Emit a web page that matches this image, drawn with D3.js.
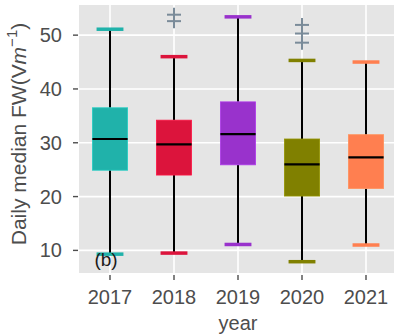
<!DOCTYPE html>
<html>
<head>
<meta charset="utf-8">
<script src="https://cdn.jsdelivr.net/npm/d3@7"></script>
<style>
  html, body { margin: 0; padding: 0; background: #ffffff; }
  svg { display: block; font-family: "Liberation Sans", Arial, sans-serif; }
</style>
</head>
<body>
<svg id="chart" width="394" height="336"></svg>
<script>
// Daily median FW per year: box summaries
const years     = ["2017", "2018", "2019", "2020", "2021"];
const lowerCap  = [9.3, 9.5, 11.1, 7.9, 11.0];
const q1        = [24.9, 24.0, 25.9, 20.1, 21.5];
const median    = [30.7, 29.7, 31.6, 26.0, 27.3];
const q3        = [36.5, 34.2, 37.6, 30.7, 31.5];
const upperCap  = [51.1, 46.0, 53.4, 45.3, 45.0];
const outlierYears  = ["2018", "2018", "2020", "2020", "2020"];
const outlierValues = [53.8, 52.6, 51.9, 50.3, 48.6];
const boxColors = ["#20B2AA", "#DC143C", "#9932CC", "#808000", "#FF7F50"];
const yTicks = [10, 20, 30, 40, 50];

const svg = d3.select("#chart");
const panel = { left: 79, top: 5, right: 394, bottom: 273 };

const x = d3.scalePoint().domain(years).range([110, 366]);
const step = x.step();
const y = d3.scaleLinear().domain([5.8, 55.6]).range([panel.bottom, panel.top]);

// panel background
svg.append("rect")
  .attr("x", panel.left).attr("y", panel.top)
  .attr("width", panel.right - panel.left)
  .attr("height", panel.bottom - panel.top)
  .attr("fill", "#E5E5E5");

// grid lines
svg.append("g").selectAll("line").data(yTicks).join("line")
  .attr("x1", panel.left).attr("x2", panel.right)
  .attr("y1", d => y(d)).attr("y2", d => y(d))
  .attr("stroke", "#ffffff").attr("stroke-width", 1.6);
svg.append("g").selectAll("line").data(years).join("line")
  .attr("x1", d => x(d)).attr("x2", d => x(d))
  .attr("y1", panel.top).attr("y2", panel.bottom)
  .attr("stroke", "#ffffff").attr("stroke-width", 1.6);

const rows = years.map((yr, i) => ({
  year: yr, lo: lowerCap[i], q1: q1[i], med: median[i], q3: q3[i], hi: upperCap[i], color: boxColors[i]
}));

const boxW = step * 0.55;
const capW = step * 0.42;

const g = svg.append("g");
// whiskers
g.selectAll("line.wlo").data(rows).join("line").attr("class", "wlo")
  .attr("x1", d => x(d.year)).attr("x2", d => x(d.year))
  .attr("y1", d => y(d.q1)).attr("y2", d => y(d.lo))
  .attr("stroke", "#000").attr("stroke-width", 2);
g.selectAll("line.whi").data(rows).join("line").attr("class", "whi")
  .attr("x1", d => x(d.year)).attr("x2", d => x(d.year))
  .attr("y1", d => y(d.q3)).attr("y2", d => y(d.hi))
  .attr("stroke", "#000").attr("stroke-width", 2);
// caps
g.selectAll("line.clo").data(rows).join("line").attr("class", "clo")
  .attr("x1", d => x(d.year) - capW / 2).attr("x2", d => x(d.year) + capW / 2)
  .attr("y1", d => y(d.lo)).attr("y2", d => y(d.lo))
  .attr("stroke", d => d.color).attr("stroke-width", 3.5);
g.selectAll("line.chi").data(rows).join("line").attr("class", "chi")
  .attr("x1", d => x(d.year) - capW / 2).attr("x2", d => x(d.year) + capW / 2)
  .attr("y1", d => y(d.hi)).attr("y2", d => y(d.hi))
  .attr("stroke", d => d.color).attr("stroke-width", 3.5);
// boxes
g.selectAll("rect.box").data(rows).join("rect").attr("class", "box")
  .attr("x", d => x(d.year) - boxW / 2).attr("width", boxW)
  .attr("y", d => y(d.q3)).attr("height", d => y(d.q1) - y(d.q3))
  .attr("fill", d => d.color)
  .attr("stroke", d => d3.color(d.color).brighter(0.4)).attr("stroke-width", 0.8);
// medians
g.selectAll("line.med").data(rows).join("line").attr("class", "med")
  .attr("x1", d => x(d.year) - boxW / 2).attr("x2", d => x(d.year) + boxW / 2)
  .attr("y1", d => y(d.med)).attr("y2", d => y(d.med))
  .attr("stroke", "#000").attr("stroke-width", 2.2);

// outliers drawn as plus signs
const outliers = outlierYears.map((yr, i) => ({ year: yr, value: outlierValues[i] }));
const ph = 7, pw = 7;
const og = svg.append("g").attr("stroke", "#7A8B99").attr("stroke-width", 2);
og.selectAll("line.ov").data(outliers).join("line").attr("class", "ov")
  .attr("x1", d => x(d.year)).attr("x2", d => x(d.year))
  .attr("y1", d => y(d.value) - ph).attr("y2", d => y(d.value) + ph);
og.selectAll("line.oh").data(outliers).join("line").attr("class", "oh")
  .attr("x1", d => x(d.year) - pw).attr("x2", d => x(d.year) + pw)
  .attr("y1", d => y(d.value)).attr("y2", d => y(d.value));

// panel tag
svg.append("text")
  .attr("x", x("2017") - 4).attr("y", 266)
  .attr("text-anchor", "middle")
  .attr("font-size", 19).attr("fill", "#1a1a1a")
  .text("(b)");

// y axis ticks and labels
svg.append("g").selectAll("line").data(yTicks).join("line")
  .attr("x1", panel.left - 6).attr("x2", panel.left - 1)
  .attr("y1", d => y(d)).attr("y2", d => y(d))
  .attr("stroke", "#4D4D4D").attr("stroke-width", 1.4);
svg.append("g").selectAll("text").data(yTicks).join("text")
  .attr("x", 62).attr("y", d => y(d) + 7)
  .attr("text-anchor", "end")
  .attr("font-size", 20).attr("fill", "#4D4D4D")
  .text(d => d);

// x axis ticks and labels
svg.append("g").selectAll("line").data(years).join("line")
  .attr("x1", d => x(d)).attr("x2", d => x(d))
  .attr("y1", panel.bottom + 2).attr("y2", panel.bottom + 7)
  .attr("stroke", "#4D4D4D").attr("stroke-width", 1.4);
svg.append("g").selectAll("text").data(years).join("text")
  .attr("x", d => x(d)).attr("y", 304)
  .attr("text-anchor", "middle")
  .attr("font-size", 20).attr("fill", "#4D4D4D")
  .text(d => d);

// axis titles
svg.append("text")
  .attr("x", 238).attr("y", 330)
  .attr("text-anchor", "middle")
  .attr("font-size", 20).attr("fill", "#4D4D4D")
  .text("year");

const yt = svg.append("text")
  .attr("transform", "translate(26,134) rotate(-90)")
  .attr("text-anchor", "middle")
  .attr("font-size", 21).attr("fill", "#4D4D4D");
yt.append("tspan").text("Daily median FW(V");
yt.append("tspan").attr("font-style", "italic").text("m");
yt.append("tspan").attr("font-size", 15).attr("dy", -9).text("\u22121");
yt.append("tspan").attr("dy", 9).text(")");
</script>
</body>
</html>
